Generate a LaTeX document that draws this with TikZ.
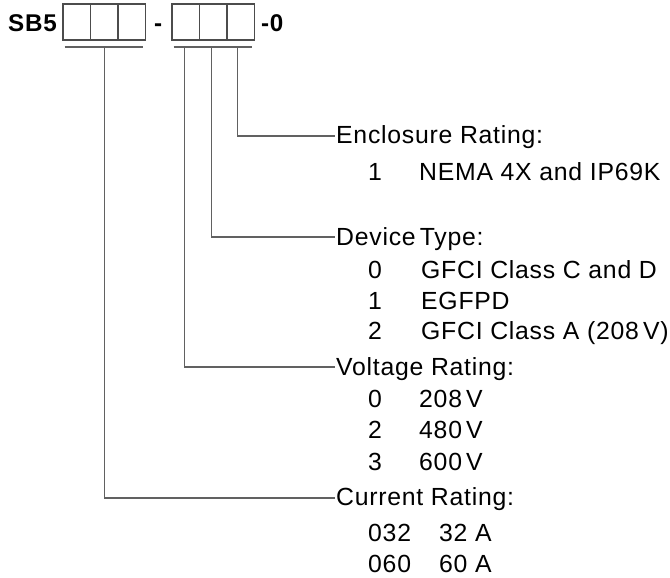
\documentclass[tikz,border=0pt]{standalone}
\usepackage{fontspec}
\setmainfont{Liberation Sans}[LetterSpace=3]
\usepackage{tikz}
\usetikzlibrary{positioning, calc}
\tikzset{
  % catalogue number boxes
  cell/.style={
    rectangle, draw=black!70, line width=1.2pt,
    minimum width=27.5pt, minimum height=36pt,
    inner sep=0pt, outer sep=0pt
  },
  codetext/.style={
    font=\fontsize{24.2}{29}\selectfont\bfseries,
    inner sep=0pt, anchor=base west
  },
  % option lists
  heading/.style={
    font=\fontsize{24.8}{29}\selectfont,
    inner sep=0pt, anchor=base west
  },
  itemtext/.style={heading},
  leader/.style={
    draw=black!62, line width=1.3pt
  }
}

\begin{document}
\begin{tikzpicture}[x=1pt, y=-1pt]
  \useasboundingbox (0,0) rectangle (670,578);

  % --- catalogue number ---
  \node[codetext] (sb) at (8,32) {SB5};
  \node[cell, anchor=north west] (c1) at (63,4) {};
  \node[cell, right=0pt of c1] (c2) {};
  \node[cell, right=0pt of c2] (c3) {};
  \node[codetext] (dash) at (154,32) {-};
  \node[cell, anchor=north west] (d1) at (172,4) {};
  \node[cell, right=0pt of d1] (d2) {};
  \node[cell, right=0pt of d2] (d3) {};
  \node[codetext] (suffix) at (261,32) {-0};

  % bars under the boxes
  \draw[leader] ($(c1.south west)+(1.5,7)$) -- ($(c3.south east)+(-3,7)$);
  \draw[leader] ($(d1.south west)+(1.5,7)$) -- ($(d3.south east)+(-3,7)$);
  \coordinate (tapc) at ($(c2.south)+(0,7)$);
  \coordinate (tapv) at ($(d1.south)+(-1.5,7)$);
  \coordinate (tapd) at ($(d2.south)+(-1.5,7)$);
  \coordinate (tape) at ($(d3.south)+(-3,7)$);

  % --- Enclosure ---
  \node[heading] (encl) at (336,143) {Enclosure Rating:};
  \node[itemtext] (encl-code) at (368,180) {1};
  \node[itemtext] (encl-desc) at (419,180) {NEMA 4X and IP69K};
  \draw[leader] (tape) |- ([xshift=-1pt, yshift=7pt]encl.base west);

  % --- Device type ---
  \node[heading] (dev) at (336,245) {Device\,Type:};
  \foreach \code/\desc/\y [count=\i] in {0/GFCI Class C and D/278, 1/EGFPD/309, 2/GFCI Class A (208\,V)/339}{
    \node[itemtext] (dev-code-\i) at (368,\y) {\code};
    \node[itemtext] (dev-desc-\i) at (421,\y) {\desc};
  }
  \draw[leader] (tapd) |- ([xshift=-1pt, yshift=8pt]dev.base west);

  % --- Voltage ---
  \node[heading] (volt) at (336,375) {Voltage Rating:};
  \foreach \code/\desc/\y [count=\i] in {0/208\,V/407, 2/480\,V/438, 3/600\,V/470}{
    \node[itemtext] (volt-code-\i) at (368,\y) {\code};
    \node[itemtext] (volt-desc-\i) at (419,\y) {\desc};
  }
  \draw[leader] (tapv) |- ([xshift=-1pt, yshift=8pt]volt.base west);

  % --- Current ---
  \node[heading] (curr) at (336,505) {Current Rating:};
  \foreach \code/\desc/\y [count=\i] in {032/32 A/541, 060/60 A/572}{
    \node[itemtext] (curr-code-\i) at (368,\y) {\code};
    \node[itemtext] (curr-desc-\i) at (439,\y) {\desc};
  }
  \draw[leader] (tapc) |- ([xshift=-1pt, yshift=7pt]curr.base west);

\end{tikzpicture}
\end{document}
